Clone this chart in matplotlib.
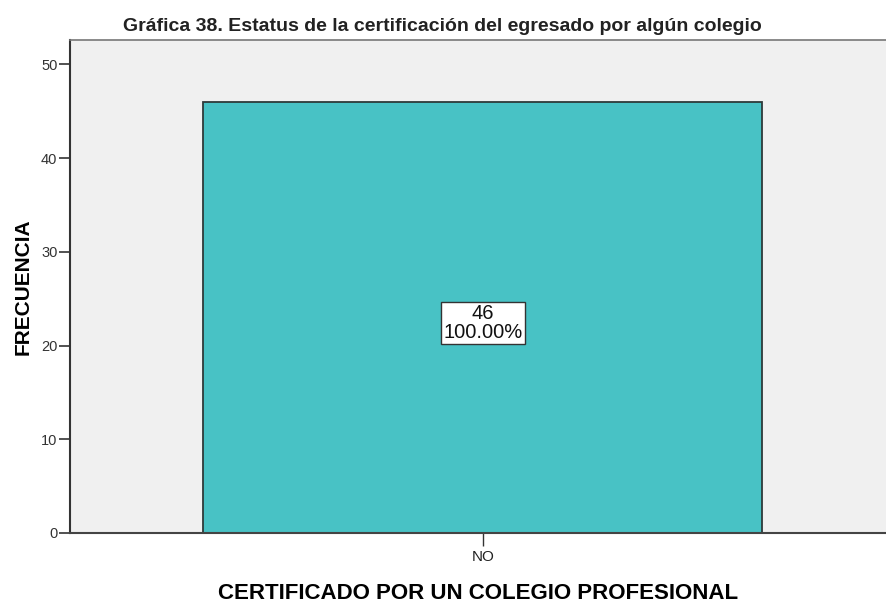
import matplotlib
matplotlib.use('Agg')
import matplotlib.pyplot as plt

# data
categories = ['NO']
counts = [46]
percents = [100.00]
yticks = [0, 10, 20, 30, 40, 50]

plt.rcParams['font.family'] = ['Liberation Sans', 'DejaVu Sans']

fig = plt.figure(figsize=(8.86, 6.07), dpi=100)
ax = fig.add_axes([0.079, 0.122, 0.921, 0.812])
ax.set_facecolor('#F0F0F0')

x = list(range(len(categories)))
ax.bar(x, counts, width=0.685, color='#48C2C5', edgecolor='#2E3A3A', linewidth=1.3)

# label inside bar
for xi, c, p in zip(x, counts, percents):
    ax.text(xi, c / 2 - 0.6, f'{c}\n{p:.2f}%', ha='center', va='center',
            fontsize=14.5, color='#111111', linespacing=1.0,
            bbox=dict(boxstyle='square,pad=0.12', facecolor='white',
                      edgecolor='#333333', linewidth=1.0))

ax.set_xlim(-0.506, 0.494)
ax.set_ylim(0, 52.6)
ax.set_xticks(x)
ax.set_xticklabels(categories, fontsize=11, color='#222222')
ax.set_yticks(yticks)
ax.tick_params(axis='y', labelsize=10.5, labelcolor='#333333', length=8, width=1.2, color='#333333', pad=1)
ax.tick_params(axis='x', length=9, width=1, color='#333333', pad=3)

ax.spines['right'].set_visible(False)
ax.spines['top'].set_color('#777777')
ax.spines['top'].set_linewidth(1.2)
ax.spines['left'].set_color('#333333')
ax.spines['left'].set_linewidth(1.5)
ax.spines['bottom'].set_color('#444444')
ax.spines['bottom'].set_linewidth(1.5)

ax.set_ylabel('FRECUENCIA', fontsize=15, fontweight='bold', labelpad=6)
ax.set_xlabel('CERTIFICADO POR UN COLEGIO PROFESIONAL', fontsize=16,
              fontweight='bold', labelpad=14)
fig.text(0.499, 0.956, 'Gráfica 38. Estatus de la certificación del egresado por algún colegio',
         ha='center', va='center', fontsize=14, fontweight='bold', color='#222222')

fig.savefig('out.png', dpi=100)
